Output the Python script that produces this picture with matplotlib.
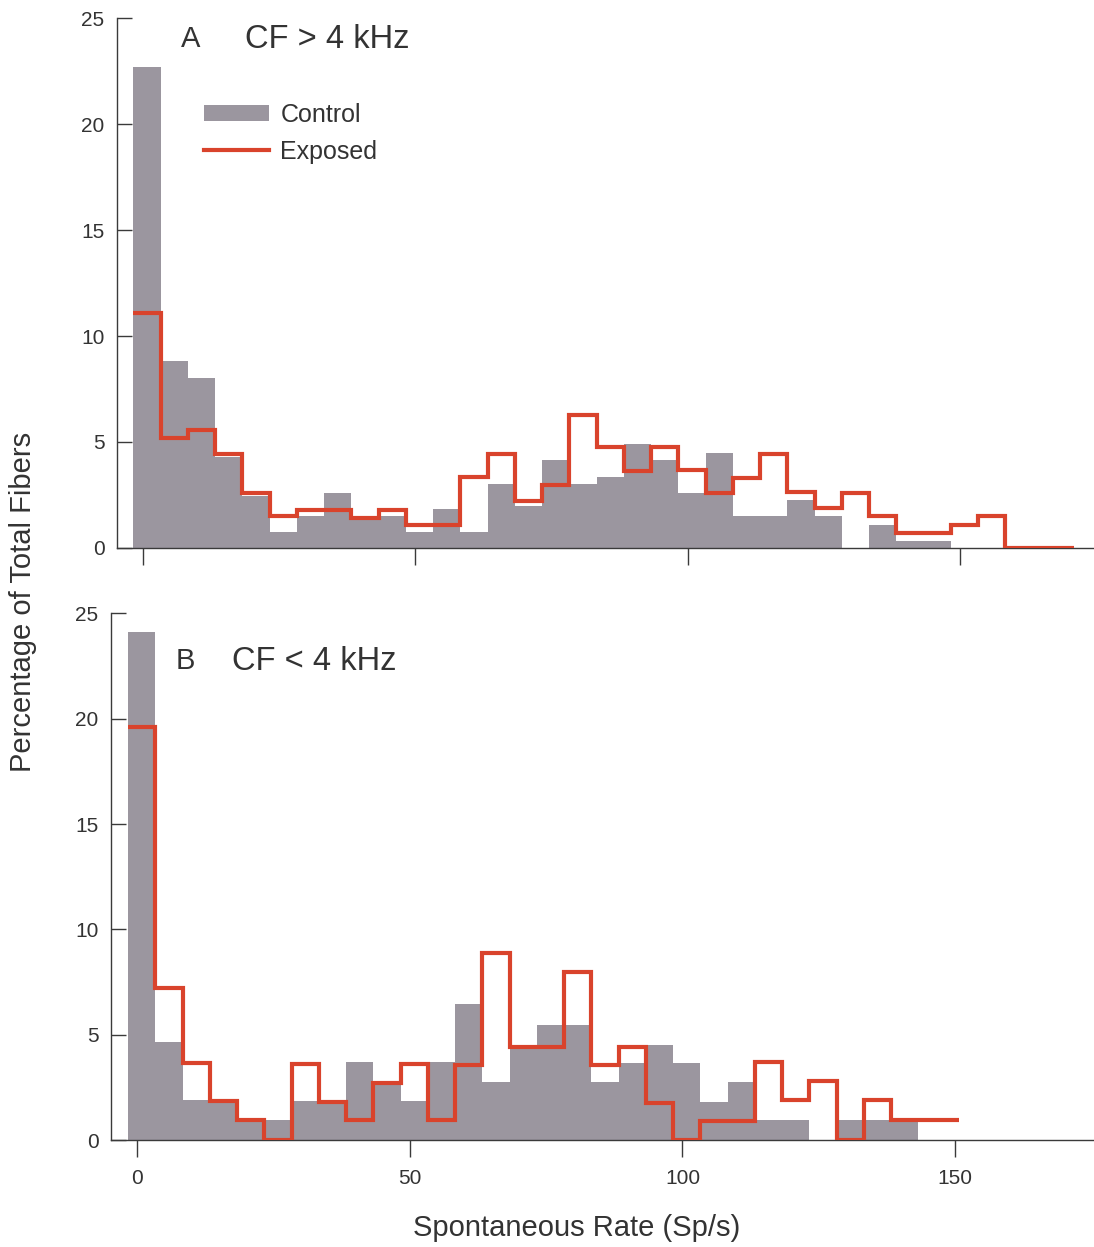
import numpy as np
import matplotlib.pyplot as plt
from matplotlib.patches import Patch
from matplotlib.lines import Line2D

plt.rcParams['font.family'] = ['Liberation Sans', 'DejaVu Sans']

# histogram bins: 5 Sp/s wide
bin_start = -1.7
bin_width = 5

# panel A, CF > 4 kHz (percent of fibers per bin)
control_a = [22.7, 8.8, 8.0, 4.3, 2.45, 0.75, 1.5, 2.6, 1.35, 1.5,
             0.75, 1.85, 0.75, 3.0, 2.0, 4.15, 3.0, 3.35, 4.9, 4.15,
             2.6, 4.5, 1.5, 1.5, 2.25, 1.5, 0.0, 1.1, 0.35, 0.35]
exposed_a = [11.1, 5.2, 5.55, 4.45, 2.6, 1.5, 1.8, 1.8, 1.4, 1.8,
             1.1, 1.1, 3.35, 4.45, 2.2, 2.95, 6.25, 4.75, 3.65, 4.75,
             3.7, 2.6, 3.3, 4.45, 2.65, 1.9, 2.6, 1.5, 0.7, 0.7,
             1.1, 1.5, 0.0, 0.0, 0.0]

# panel B, CF < 4 kHz
control_b = [24.1, 4.65, 1.9, 1.75, 0.85, 0.95, 1.85, 1.7, 3.7, 2.6,
             1.85, 3.7, 6.45, 2.75, 4.3, 5.45, 5.45, 2.75, 3.65, 4.5,
             3.65, 1.8, 2.75, 0.95, 0.95, 0.0, 0.95, 0.95, 0.95]
exposed_b = [19.6, 7.2, 3.65, 1.85, 0.95, 0.0, 3.6, 1.8, 0.95, 2.7,
             3.6, 0.95, 3.55, 8.9, 4.4, 4.4, 8.0, 3.55, 4.4, 1.75,
             0.0, 0.9, 0.9, 3.7, 1.9, 2.8, 0.0, 1.9, 0.95, 0.95, 0.95]

x_ticks = [0, 50, 100, 150]
y_ticks = [0, 5, 10, 15, 20, 25]

GRAY = '#9b969f'
RED = '#d9432c'
TXT = '#333333'
W, H = 1094, 1247


def fx(x):
    return x / W


def fy(y):
    return 1 - y / H


def draw_panel(ax, control, exposed, xlim, show_xlabels):
    edges_c = bin_start + bin_width * np.arange(len(control) + 1)
    ax.bar(edges_c[:-1], control, width=bin_width, align='edge',
           color=GRAY, linewidth=0, zorder=1)
    edges_e = bin_start + bin_width * np.arange(len(exposed) + 1)
    edges_e[-1] -= bin_width / 2  # last step drawn half width
    ax.stairs(exposed, edges_e, baseline=None, color=RED, linewidth=3.0,
              zorder=3)
    ax.set_xlim(*xlim)
    ax.set_ylim(0, 25)
    for s in ['top', 'right']:
        ax.spines[s].set_visible(False)
    for s in ['left', 'bottom']:
        ax.spines[s].set_color('#3a3a3a')
        ax.spines[s].set_linewidth(1.0)
    ax.set_xticks(x_ticks)
    ax.set_yticks(y_ticks)
    ax.tick_params(axis='y', direction='in', length=11, width=1.0,
                   color='#3a3a3a', labelsize=15, labelcolor=TXT, pad=9)
    ax.tick_params(axis='x', direction='out', length=12, width=1.0,
                   color='#3a3a3a', labelsize=15, labelcolor=TXT, pad=9,
                   labelbottom=show_xlabels)


fig = plt.figure(figsize=(W / 100, H / 100), dpi=100)

ax_a = fig.add_axes([fx(117), fy(548), 1 - fx(117), fy(18) - fy(548)])
draw_panel(ax_a, control_a, exposed_a, (-4.72, 174.55), False)

ax_b = fig.add_axes([fx(111), fy(1140), 1 - fx(111), fy(613.5) - fy(1140)])
draw_panel(ax_b, control_b, exposed_b, (-4.83, 175.5), True)

fig.text(fx(191), fy(39), 'A', fontsize=21, color=TXT, ha='center', va='center')
fig.text(fx(245), fy(39), 'CF > 4 kHz', fontsize=23.5, color=TXT, ha='left', va='center')
fig.text(fx(185), fy(661), 'B', fontsize=21, color=TXT, ha='center', va='center')
fig.text(fx(232), fy(661), 'CF < 4 kHz', fontsize=23.5, color=TXT, ha='left', va='center')

handles = [Patch(facecolor=GRAY, edgecolor='none'),
           Line2D([], [], color=RED, linewidth=3.0)]
ax_a.legend(handles, ['Control', 'Exposed'], loc='upper left',
            bbox_to_anchor=(fx(204), fy(103)), bbox_transform=fig.transFigure,
            frameon=False, fontsize=18, handlelength=2.6, handleheight=0.6,
            handletextpad=0.45, labelspacing=0.5, borderpad=0,
            borderaxespad=0, labelcolor=TXT)

fig.text(fx(23), fy(602), 'Percentage of Total Fibers', fontsize=21, color=TXT,
         rotation=90, ha='center', va='center')
fig.text(fx(577), fy(1228), 'Spontaneous Rate (Sp/s)', fontsize=21, color=TXT,
         ha='center', va='center')

fig.savefig('out.png', dpi=100)
